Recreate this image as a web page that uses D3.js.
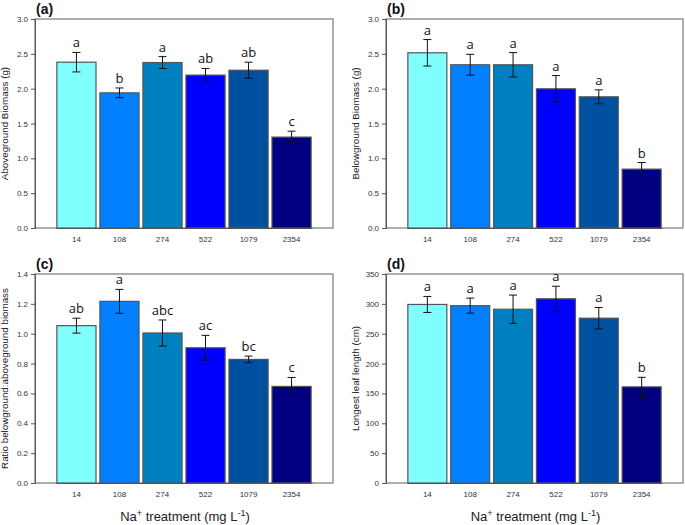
<!DOCTYPE html>
<html><head><meta charset="utf-8">
<script src="https://cdn.jsdelivr.net/npm/d3@7"></script>
<style>body{margin:0;background:#fff}svg{display:block}</style>
</head><body>
<svg id="c" width="685" height="525"></svg>
<script>
const categories = ["14","108","274","522","1079","2354"];
const colors = ["#80ffff","#0080ff","#0080c0","#0000ff","#0050a0","#000080"];

const aboveMean = [2.38,1.94,2.375,2.195,2.265,1.305];
const aboveErr  = [0.14,0.07,0.085,0.095,0.115,0.085];
const aboveLetters = ["a","b","a","ab","ab","c"];

const belowMean = [2.515,2.343,2.343,1.998,1.883,0.845];
const belowErr  = [0.19,0.15,0.175,0.19,0.10,0.095];
const belowLetters = ["a","a","a","a","a","b"];

const ratioMean = [1.054,1.217,1.005,0.906,0.828,0.647];
const ratioErr  = [0.05,0.08,0.087,0.083,0.022,0.06];
const ratioLetters = ["ab","a","abc","ac","bc","c"];

const leafMean = [299,297,291,308.5,276,161];
const leafErr  = [13.4,12.6,23.7,21,17.9,16];
const leafLetters = ["a","a","a","a","a","b"];

const yTicksA = [0,0.5,1.0,1.5,2.0,2.5,3.0];
const yTicksC = [0,0.2,0.4,0.6,0.8,1.0,1.2,1.4];
const yTicksD = [0,50,100,150,200,250,300,350];

const panels = [
  {tag:"(a)", mean:aboveMean, err:aboveErr, letters:aboveLetters, max:3, ticks:yTicksA, fmt:d3.format(".1f"), ylab:"Aboveground Biomass (g)", x0:35, x1:333, y0:19, y1:228, xt:false},
  {tag:"(b)", mean:belowMean, err:belowErr, letters:belowLetters, max:3, ticks:yTicksA, fmt:d3.format(".1f"), ylab:"Belowground Biomass (g)", x0:386, x1:683, y0:19, y1:228, xt:false},
  {tag:"(c)", mean:ratioMean, err:ratioErr, letters:ratioLetters, max:1.4, ticks:yTicksC, fmt:d3.format(".1f"), ylab:"Ratio belowground:aboveground biomass", x0:35, x1:333, y0:274, y1:483, xt:true},
  {tag:"(d)", mean:leafMean, err:leafErr, letters:leafLetters, max:350, ticks:yTicksD, fmt:d3.format("d"), ylab:"Longest leaf length (cm)", x0:386, x1:683, y0:274, y1:483, xt:true}
];

const svg = d3.select("#c");

panels.forEach(p => {
  const g = svg.append("g");
  const x = d3.scaleBand().domain(categories).range([p.x0+21, p.x1-21]).paddingInner(0.09).paddingOuter(0.02);
  const y = d3.scaleLinear().domain([0,p.max]).range([p.y1,p.y0]);

  // frame
  g.append("rect").attr("x",p.x0).attr("y",p.y0).attr("width",p.x1-p.x0).attr("height",p.y1-p.y0)
    .attr("fill","none").attr("stroke","#7a7a7a").attr("stroke-width",1.2);

  // y axis
  const ya = g.append("g").attr("transform",`translate(${p.x0},0)`)
    .call(d3.axisLeft(y).tickValues(p.ticks).tickFormat(p.fmt).tickSize(4).tickPadding(3));
  ya.select(".domain").attr("stroke","#555");
  ya.selectAll(".tick line").attr("stroke","#555");
  ya.selectAll("text").attr("font-family","Liberation Sans, Arial, sans-serif").attr("font-size",8).attr("fill","#333");

  // x axis labels
  const xa = g.append("g").attr("transform",`translate(0,${p.y1})`)
    .call(d3.axisBottom(x).tickSize(0).tickPadding(8));
  xa.select(".domain").attr("stroke","#555");
  xa.selectAll("text").attr("font-family","Liberation Sans, Arial, sans-serif").attr("font-size",8).attr("fill","#333");

  // bars
  g.selectAll("rect.bar").data(categories).join("rect").attr("class","bar")
    .attr("x",d=>x(d)).attr("width",x.bandwidth())
    .attr("y",(d,i)=>y(p.mean[i])).attr("height",(d,i)=>p.y1-y(p.mean[i]))
    .attr("fill",(d,i)=>colors[i]).attr("stroke","#555").attr("stroke-width",1.2);

  // error bars
  const eb = g.selectAll("g.eb").data(categories).join("g").attr("class","eb");
  eb.append("line")
    .attr("x1",d=>x(d)+x.bandwidth()/2).attr("x2",d=>x(d)+x.bandwidth()/2)
    .attr("y1",(d,i)=>y(p.mean[i]+p.err[i])).attr("y2",(d,i)=>y(p.mean[i]-p.err[i]))
    .attr("stroke","#111").attr("stroke-width",1);
  [1,-1].forEach(s=>{
    eb.append("line")
      .attr("x1",d=>x(d)+x.bandwidth()/2-4).attr("x2",d=>x(d)+x.bandwidth()/2+4)
      .attr("y1",(d,i)=>y(p.mean[i]+s*p.err[i])).attr("y2",(d,i)=>y(p.mean[i]+s*p.err[i]))
      .attr("stroke","#111").attr("stroke-width",1);
  });

  // letters
  g.selectAll("text.let").data(categories).join("text").attr("class","let")
    .attr("x",d=>x(d)+x.bandwidth()/2).attr("y",(d,i)=>y(p.mean[i]+p.err[i])-5)
    .attr("text-anchor","middle").attr("font-family","Open Sans, sans-serif").attr("font-size",13).attr("fill","#111")
    .text((d,i)=>p.letters[i]);

  // panel tag
  g.append("text").attr("x",p.x0+1).attr("y",p.y0-5).attr("font-family","Liberation Sans, Arial, sans-serif")
    .attr("font-weight","bold").attr("font-size",14).attr("fill","#111").text(p.tag);

  // y label
  const cy = (p.y0+p.y1)/2;
  const lx = p.x0 - 27;
  g.append("text").attr("transform",`translate(${lx},${cy}) rotate(-90)`).attr("text-anchor","middle")
    .attr("font-family","Liberation Sans, Arial, sans-serif").attr("font-size",9.8).attr("fill","#222").text(p.ylab);

  if (p.xt) {
    const t = g.append("text").attr("x",(p.x0+p.x1)/2+1).attr("y",521).attr("text-anchor","middle")
      .attr("font-family","Liberation Sans, Arial, sans-serif").attr("font-size",13).attr("fill","#222");
    t.append("tspan").text("Na");
    t.append("tspan").attr("font-size",9).attr("dy",-5).text("+");
    t.append("tspan").attr("dy",5).text(" treatment (mg L");
    t.append("tspan").attr("font-size",9).attr("dy",-5).text("-1");
    t.append("tspan").attr("dy",5).text(")");
  }
});
</script>
</body></html>
